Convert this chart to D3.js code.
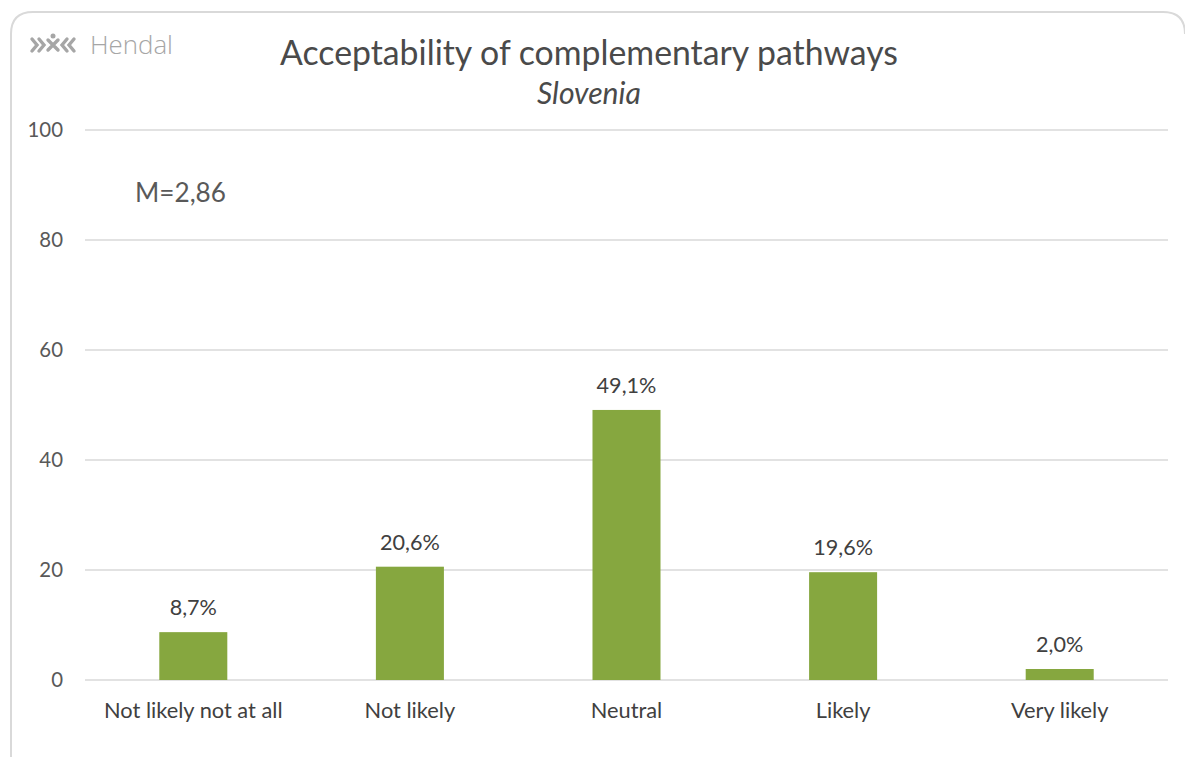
<!DOCTYPE html>
<html><head><meta charset="utf-8">
<script src="https://cdn.jsdelivr.net/npm/d3@7"></script>
<style>body{margin:0;background:#fff;}svg{display:block;}</style>
</head><body>
<script>
const categories = ["Not likely not at all","Not likely","Neutral","Likely","Very likely"];
const values = [8.7,20.6,49.1,19.6,2.0];
const valueLabels = ["8,7%","20,6%","49,1%","19,6%","2,0%"];
const yTicks = [0,20,40,60,80,100];
const title = "Acceptability of complementary pathways";
const subtitle = "Slovenia";
const meanLabel = "M=2,86";

const W=1185,H=758;
const svg=d3.select("body").append("svg").attr("width",W).attr("height",H);
// frame
svg.append("path").attr("d","M11,757 L11,34 Q11,12 33,12 L1163,12 Q1185,12 1185,34")
  .attr("fill","none").attr("stroke","#d9d9d9").attr("stroke-width",2);
const m={l:85,r:1168,t:130,b:680};
const x=d3.scaleBand().domain(categories).range([m.l,m.r]).paddingInner(0.686).paddingOuter(0.343);
const y=d3.scaleLinear().domain([0,100]).range([m.b,m.t]);
const lab="Lato, 'Open Sans', sans-serif";
function fit(sel,w){const l=sel.node().getComputedTextLength();const fs=+sel.attr("font-size");sel.attr("font-size",fs*w/l);}
// grid
svg.append("g").selectAll("line").data(yTicks).join("line")
  .attr("x1",m.l).attr("x2",m.r).attr("y1",d=>y(d)).attr("y2",d=>y(d))
  .attr("stroke","#d9d9d9").attr("stroke-width",1.5);
svg.append("g").selectAll("text").data(yTicks).join("text")
  .attr("x",63).attr("y",d=>y(d)+7).attr("text-anchor","end")
  .attr("font-family",lab).attr("font-size",20.4).attr("fill","#595959").text(d=>d);
// bars
svg.append("g").selectAll("rect").data(values).join("rect")
  .attr("x",(d,i)=>x(categories[i])).attr("width",x.bandwidth())
  .attr("y",d=>y(d)).attr("height",d=>y(0)-y(d)).attr("fill","#86a73f");
svg.append("g").selectAll("text").data(values).join("text")
  .attr("x",(d,i)=>x(categories[i])+x.bandwidth()/2).attr("y",d=>y(d)-17)
  .attr("text-anchor","middle").attr("font-family",lab).attr("font-size",21.6).attr("fill","#404040")
  .text((d,i)=>valueLabels[i]);
// category labels
svg.append("g").selectAll("text").data(categories).join("text")
  .attr("x",d=>x(d)+x.bandwidth()/2).attr("y",718).attr("text-anchor","middle")
  .attr("font-family",lab).attr("font-size",21.8).attr("fill","#404040").text(d=>d);
// title
const t=svg.append("text").attr("x",589).attr("y",65).attr("text-anchor","middle")
  .attr("font-family",lab).attr("font-size",30).attr("fill","#4a4a4a").text(title);
fit(t,618);
const st=svg.append("text").attr("x",589).attr("y",104).attr("text-anchor","middle").attr("font-style","italic")
  .attr("font-family",lab).attr("font-size",24).attr("fill","#4a4a4a").text(subtitle);
fit(st,104);
const mt=svg.append("text").attr("x",135).attr("y",202).attr("font-family",lab).attr("font-size",26).attr("fill","#595959").text(meanLabel);
fit(mt,91);
// logo
const lg=svg.append("g").attr("fill","none").attr("stroke","#a6a6a6").attr("stroke-width",3.4).attr("stroke-linecap","round");
lg.append("path").attr("d","M32,39 L37,45 L32,51");
lg.append("path").attr("d","M39,39 L44,45 L39,51");
lg.append("path").attr("d","M48,40 L58,50 M58,40 L48,50");
lg.append("path").attr("d","M67,39 L62,45 L67,51");
lg.append("path").attr("d","M74,39 L69,45 L74,51");
svg.append("circle").attr("cx",53).attr("cy",36).attr("r",2.5).attr("fill","#a6a6a6");
const ht=svg.append("text").attr("x",90).attr("y",54).attr("font-family","'Open Sans', sans-serif").attr("font-weight",300).attr("font-size",24).attr("fill","#a6a6a6").text("Hendal");
fit(ht,83);
</script>
</body></html>
